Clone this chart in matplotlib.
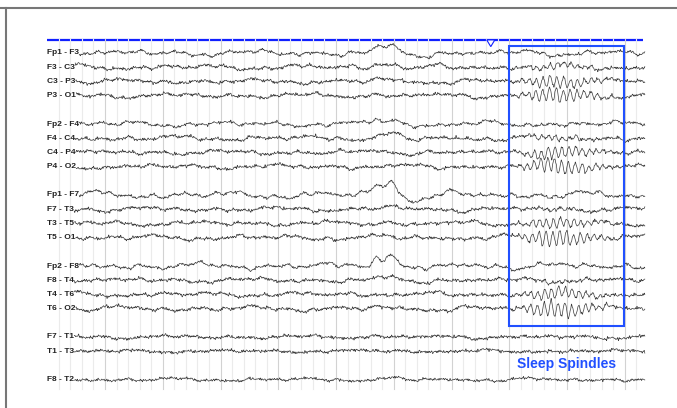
import numpy as np
import matplotlib
matplotlib.use("Agg")
import matplotlib.pyplot as plt
from matplotlib.lines import Line2D
from matplotlib.patches import Rectangle, Polygon

plt.rcParams["font.family"] = ["Liberation Sans", "DejaVu Sans"]

# montage, top to bottom; a blank row separates the chains
channels = ["Fp1 - F3", "F3 - C3", "C3 - P3", "P3 - O1",
            "Fp2 - F4", "F4 - C4", "C4 - P4", "P4 - O2",
            "Fp1 - F7", "F7 - T3", "T3 - T5", "T5 - O1",
            "Fp2 - F8", "F8 - T4", "T4 - T6", "T6 - O2",
            "F7 - T1", "T1 - T3",
            "F8 - T2"]
rows = [0, 1, 2, 3, 5, 6, 7, 8, 10, 11, 12, 13, 15, 16, 17, 18, 20, 21, 23]

# amplitudes, in units of one row spacing
spindle_amp = [0.04, 0.17, 0.38, 0.46, 0.04, 0.15, 0.38, 0.48,
               0.03, 0.08, 0.32, 0.52, 0.03, 0.08, 0.36, 0.52,
               0.03, 0.03, 0.02]
kcomplex_amp = [0.42, 0.32, 0.12, 0.05, 0.36, 0.30, 0.08, 0.03,
                0.95, 0.16, 0.05, 0.03, 0.90, 0.14, 0.05, 0.03,
                0.08, 0.05, 0.07]
drift_amp = [0.10, 0.09, 0.08, 0.08, 0.09, 0.09, 0.08, 0.08,
             0.12, 0.08, 0.08, 0.09, 0.11, 0.08, 0.08, 0.09,
             0.06, 0.05, 0.06]
fast_amp = [0.030, 0.035, 0.035, 0.035, 0.030, 0.035, 0.035, 0.035,
            0.030, 0.035, 0.035, 0.035, 0.030, 0.035, 0.035, 0.035,
            0.035, 0.035, 0.030]

# time axis (s): page runs 0 - 10.35 s, grid every 0.2 s, bold each second
t_end = 10.35
grid_times = np.round(np.arange(0.2, 10.21, 0.2), 2)

# K-complex (around 5.6 - 6.9 s) as lobes: centre (s), relative height, width (s)
kc_centres = [5.70, 5.95, 6.32, 6.56]
kc_heights = [0.75, 1.00, -0.35, -0.15]
kc_widths = [0.07, 0.11, 0.11, 0.08]

# spindle burst inside the box
spindle_hz = 8.4
spindle_peak = 8.72
spindle_rise, spindle_fall = 0.30, 0.55
box_t = (8.0, 9.98)
box_rows = (-0.49, 19.2)
marker_t = 7.68

# background rhythm components (Hz)
slow_freqs = [0.47, 0.83, 1.31, 1.93, 2.71, 3.9, 5.3]
fast_freqs = [11.3, 14.9, 18.7, 23.3, 28.1, 33.7, 39.1, 44.9]

fig = plt.figure(figsize=(6.77, 4.08), dpi=100)
ax = fig.add_axes([0, 0, 1, 1])
ax.set_xlim(-47.25 / 57.75, (677 - 47.25) / 57.75)
ax.set_ylim((408 - 53) / 14.2, -53 / 14.2)
ax.axis("off")

# frame of the page
fig.add_artist(Line2D([0, 1], [1 - 8 / 408] * 2, transform=fig.transFigure,
                      color="#777777", lw=1.5))
fig.add_artist(Line2D([6 / 677] * 2, [0, 1 - 8 / 408], transform=fig.transFigure,
                      color="#777777", lw=1.5))

# top blue time bar and grid
ax.plot([0, 10.32], [-0.92, -0.92], color="#1020ff", lw=1.6, zorder=1,
        solid_capstyle="butt")
for gt in grid_times:
    bold = abs(gt - round(gt)) < 1e-6
    ax.plot([gt, gt], [-1.02, 23.65], color="#d2d2d2" if bold else "#ebebeb",
            lw=0.8, zorder=2)
ax.add_patch(Polygon([[marker_t - 0.07, -0.92], [marker_t + 0.07, -0.92],
                      [marker_t, -0.45]], closed=True, facecolor="white",
                     edgecolor="#1020ff", lw=0.8, zorder=3))

t = np.arange(0, t_end, 1 / 400)
golden = 0.6180339887

for i, (name, row) in enumerate(zip(channels, rows)):
    txt = ax.text(0, row, name, fontsize=6, fontweight="bold", color="#222222",
                  ha="left", va="center", zorder=5)
    sig = np.zeros_like(t)
    for j, f in enumerate(slow_freqs):
        ph = 2 * np.pi * (((i + 1) * golden * (j + 3) * 1.37) % 1)
        sig += drift_amp[i] / (j + 1) ** 0.5 * np.sin(2 * np.pi * f * t + ph)
    for j, f in enumerate(fast_freqs):
        ph = 2 * np.pi * (((i + 2) * (j + 1) * golden * 2.71) % 1)
        fr = f * (1 + 0.02 * np.sin(i + j))
        sig += fast_amp[i] / 1.6 * np.sin(2 * np.pi * fr * t + ph)
    kc = np.zeros_like(t)
    for c, h, w in zip(kc_centres, kc_heights, kc_widths):
        kc += h * np.exp(-0.5 * ((t - c) / w) ** 2)
    sig += kcomplex_amp[i] * kc
    env = np.where(t < spindle_peak,
                   np.exp(-0.5 * ((t - spindle_peak) / spindle_rise) ** 2),
                   np.exp(-0.5 * ((t - spindle_peak) / spindle_fall) ** 2))
    env *= (t > box_t[0] + 0.05)
    sig += spindle_amp[i] * env * np.sin(2 * np.pi * spindle_hz * t + 0.4 * i)

    fig.canvas.draw()
    bb = txt.get_window_extent(fig.canvas.get_renderer())
    t0 = ax.transData.inverted().transform((bb.x1, 0))[0]
    keep = t >= t0
    ax.plot(t[keep], row - sig[keep], color="#3c3c3c", lw=0.5, zorder=4)

ax.add_patch(Rectangle((box_t[0], box_rows[0]), box_t[1] - box_t[0],
                       box_rows[1] - box_rows[0], fill=False,
                       edgecolor="#2150ff", lw=1.5, zorder=6))
ax.text((box_t[0] + box_t[1]) / 2, 22.15, "Sleep Spindles", fontsize=10,
        fontweight="bold", color="#2150ff", ha="center", va="baseline", zorder=6)

fig.savefig("out.png", dpi=100)
